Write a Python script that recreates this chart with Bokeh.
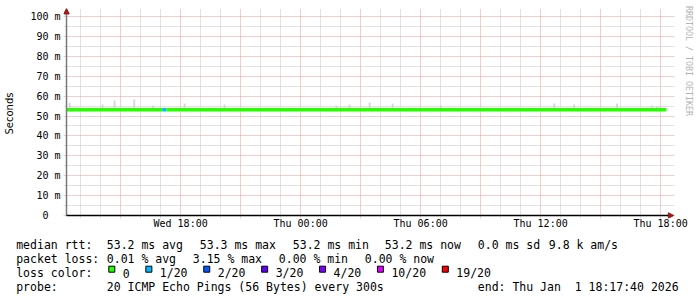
import pandas as pd
from bokeh.plotting import figure
from bokeh.layouts import column
from bokeh.models import (Range1d, FixedTicker, DatetimeTickFormatter, CustomJSTickFormatter,
                          Arrow, NormalHead, LinearAxis, ColumnDataSource)
from bokeh.core.properties import value
from bokeh.embed import file_html
from bokeh.resources import INLINE

# ---------------- data ----------------
start_time = "2025-12-31 12:17:40"
end_time = "2026-01-01 18:17:40"
label_times = ["2025-12-31 18:00:00", "2026-01-01 00:00:00", "2026-01-01 06:00:00",
               "2026-01-01 12:00:00", "2026-01-01 18:00:00"]

# median rtt segments (ms) coloured by lost pings out of 20
seg_start = ["2025-12-31 12:17:40", "2025-12-31 17:05:00", "2025-12-31 17:17:00"]
seg_end = ["2025-12-31 17:05:00", "2025-12-31 17:17:00", "2026-01-01 18:17:40"]
seg_median_ms = [53.2, 53.2, 53.2]
seg_loss = [0, 1, 0]

# smoke (max ping) spikes above the median
smoke_times = ["2025-12-31 12:27:00", "2025-12-31 14:06:00", "2025-12-31 14:42:00", "2025-12-31 15:41:00",
               "2025-12-31 16:37:00", "2025-12-31 18:12:00", "2025-12-31 20:12:00", "2026-01-01 01:47:00",
               "2026-01-01 02:27:00", "2026-01-01 03:27:00", "2026-01-01 04:36:00", "2026-01-01 07:01:00",
               "2026-01-01 12:41:00", "2026-01-01 13:41:00", "2026-01-01 15:49:00", "2026-01-01 17:34:00",
               "2026-01-01 17:49:00"]
smoke_max_ms = [56.6, 55.8, 57.8, 58.3, 55.3, 56.3, 55.8, 55.3, 55.8, 56.8, 56.3, 55.3,
                56.3, 55.8, 56.3, 55.3, 54.8]

loss_levels = [0, 1, 2, 3, 4, 10, 19]
loss_labels = ["0", "1/20", "2/20", "3/20", "4/20", "10/20", "19/20"]
loss_colors = ["#26ff00", "#00b8ff", "#0059ff", "#5e00ff", "#7e00ff", "#dd00ff", "#ff0000"]

row1 = ["median rtt:", "53.2 ms avg", "53.3 ms max", "53.2 ms min", "53.2 ms now", "0.0 ms sd", "9.8 k am/s"]
row2 = ["packet loss:", "0.01 % avg", "3.15 % max", "0.00 % min", "0.00 % now"]
row3_title = "loss color:"
row4 = ["probe:", "20 ICMP Echo Pings (56 Bytes) every 300s", "end: Thu Jan  1 18:17:40 2026"]
watermark = "RRDTOOL / TOBI OETIKER"

y_ticks_ms = [0, 10, 20, 30, 40, 50, 60, 70, 80, 90, 100]

# ---------------- layout constants ----------------
W = 697
H1 = 236
H2 = 297 - H1
MONO = "DejaVu Sans Mono"
row1_x = [15.7, 106.3, 199.3, 292.3, 384.3, 477.3, 548.3]
row2_x = [15.7, 106.3, 192.3, 278.3, 364.3]
row4_x = [15.7, 106.3, 477.3]
CW = 6.95
PX_PER_MS = 1.99          # vertical scale
STEP = pd.Timedelta(minutes=3)  # one pixel horizontally
WM_PAD = 21               # trailing blanks that lift the watermark to the top

t0 = pd.Timestamp(start_time)
t1 = pd.Timestamp(end_time)


def ms(t):
    return pd.Timestamp(t).value / 1e6


def to_dt(lst):
    return pd.to_datetime(lst, format="%Y-%m-%d %H:%M:%S")


def keep_spaces(s):
    return s.replace("  ", " \u00a0")


def px_to_s(y_px):  # canvas pixel row -> seconds
    return (215 - y_px) / PX_PER_MS / 1000


y_top = px_to_s(8)
y_bot = px_to_s(218)

p = figure(width=W, height=H1, x_axis_type="datetime",
           x_range=Range1d(ms(t0 - 3 * STEP), ms(t1 + 8 * STEP)), y_range=Range1d(y_bot, y_top),
           output_backend="svg", toolbar_location=None,
           min_border_left=63, min_border_right=23, min_border_top=8, min_border_bottom=H1 - 218)
p.frame_align = False
p.outline_line_color = None
p.background_fill_color = "white"
p.border_fill_color = "white"

# grids
hours = pd.date_range(t0.ceil("h"), t1, freq="h")
major3 = [ms(h) for h in hours if h.hour % 3 == 0]
minor1 = [ms(h) for h in hours if h.hour % 3 != 0]
p.xgrid.ticker = FixedTicker(ticks=major3, minor_ticks=minor1)
p.ygrid.ticker = FixedTicker(ticks=[v / 1000 for v in y_ticks_ms],
                             minor_ticks=[(v + 5) / 1000 for v in y_ticks_ms[:-1]])
for g in (p.xgrid, p.ygrid):
    g.grid_line_color = "#e89a9a"
    g.grid_line_dash = "1 1"
    g.grid_line_width = 1
    g.minor_grid_line_color = "#c4c4c4"
    g.minor_grid_line_dash = "1 1"
    g.minor_grid_line_width = 1

# axes (labels only; axis lines drawn by the arrows)
p.xaxis.ticker = FixedTicker(ticks=[ms(t) for t in label_times], minor_ticks=[])
fmt = "%a %H:%M"
p.xaxis.formatter = DatetimeTickFormatter(hours=fmt, hourmin=fmt, days=fmt, minutes=fmt, months=fmt)
p.yaxis.ticker = FixedTicker(ticks=[v / 1000 for v in y_ticks_ms], minor_ticks=[])
p.yaxis.formatter = CustomJSTickFormatter(
    code="return tick == 0 ? '0\u00a0\u00a0' : Math.round(tick*1000) + ' m';")
for ax in (p.xaxis, p.yaxis):
    ax.axis_line_color = None
    ax.major_tick_line_color = None
    ax.minor_tick_line_color = None
    ax.major_tick_out = 0
    ax.major_tick_in = 0
    ax.major_label_text_font = MONO
    ax.major_label_text_font_size = "10px"
    ax.major_label_text_color = "#000000"
p.xaxis.major_label_standoff = -1
p.yaxis.major_label_standoff = 3
p.yaxis.axis_label = "Seconds"
p.yaxis.axis_label_text_font = "DejaVu Sans"
p.yaxis.axis_label_text_font_size = "10px"
p.yaxis.axis_label_text_font_style = "normal"
p.yaxis.axis_label_text_color = "#000000"
p.yaxis.axis_label_standoff = 12

# watermark as the label of an empty right axis
wm_axis = LinearAxis(ticker=FixedTicker(ticks=[]),
                     axis_label=watermark + "\u00a0" * WM_PAD, axis_label_text_font=MONO,
                     axis_label_text_font_size="8.3px", axis_label_text_font_style="normal",
                     axis_label_text_color="#b4b4b4", axis_label_standoff=9,
                     axis_line_color=None, major_tick_line_color=None, minor_tick_line_color=None,
                     major_tick_out=0, major_tick_in=0, minor_tick_out=0, minor_tick_in=0,
                     major_label_standoff=0)
p.add_layout(wm_axis, "right")

# smoke
smoke = ColumnDataSource(dict(
    x=to_dt(smoke_times),
    top=[v / 1000 for v in smoke_max_ms],
    bottom=[seg_median_ms[0] / 1000] * len(smoke_times)))
p.vbar(x="x", top="top", bottom="bottom", width=5.5 * 60 * 1000, source=smoke,
       fill_color="#d4d4d4", line_color=None)

# median line segments
cmap = dict(zip(loss_levels, loss_colors))
segs = ColumnDataSource(dict(
    x0=to_dt(seg_start), x1=to_dt(seg_end),
    y=[v / 1000 for v in seg_median_ms],
    c=[cmap[l] for l in seg_loss]))
p.segment(x0="x0", y0="y", x1="x1", y1="y", line_color="c", line_width=3.5,
          line_cap="butt", source=segs)

# axis lines with arrow heads
ARROW = "#a01818"
p.add_layout(Arrow(x_start=ms(t0), y_start=0, x_end=ms(t0), y_end=y_top,
                   line_color="#7a7a7a", line_width=1.5,
                   end=NormalHead(size=5.5, fill_color=ARROW, line_color=ARROW)))
p.add_layout(Arrow(x_start=ms(t0), y_start=0, x_end=ms(t1 + 7.3 * STEP), y_end=0,
                   line_color="#000000", line_width=1.5,
                   end=NormalHead(size=5.5, fill_color=ARROW, line_color=ARROW)))

# ---------------- legend ----------------
q = figure(width=W, height=H2, x_range=Range1d(0, W), y_range=Range1d(H2, 0),
           output_backend="svg", toolbar_location=None,
           x_axis_location=None, y_axis_location=None,
           min_border_left=0, min_border_right=0, min_border_top=0, min_border_bottom=0)
q.frame_align = False
q.outline_line_color = None
q.grid.visible = False
BASE = 244.5 - H1
ROW = 14.0

# loss legend positions: labels spaced by text width + gap
lab_x = [122.3]
for lab in loss_labels[:-1]:
    lab_x.append(lab_x[-1] + len(lab) * CW + 30.1)
sq_x = [x - 14.6 + 3.6 for x in lab_x]

texts, xs, ys = [], [], []
for i, (items, xpos) in enumerate([(row1, row1_x), (row2, row2_x), ([row3_title], [15.7]), (row4, row4_x)]):
    for it, xx in zip(items, xpos):
        texts.append(keep_spaces(it)); xs.append(xx); ys.append(BASE + i * ROW)
texts += loss_labels
xs += lab_x
ys += [BASE + 2 * ROW] * len(loss_labels)

q.text(x=xs, y=ys, text=texts, text_font=value(MONO), text_font_size=value("11.5px"),
       text_baseline="alphabetic", text_align="left", text_color="#000000")
q.rect(x=sq_x, y=[BASE + 2 * ROW - 3.8] * len(sq_x), width=6, height=6,
       fill_color=loss_colors, line_color="#000000", line_width=1)

layout = column(p, q, spacing=0)
open("out.html", "w").write(file_html(layout, INLINE))
